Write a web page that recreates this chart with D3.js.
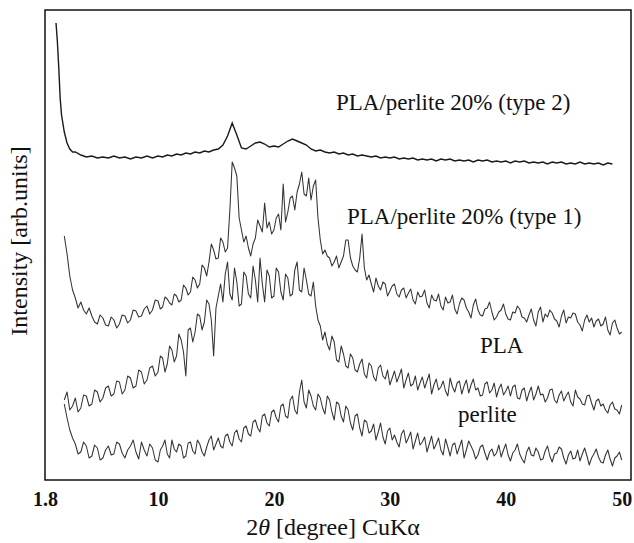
<!DOCTYPE html>
<html>
<head>
<meta charset="utf-8">
<script src="https://cdn.jsdelivr.net/npm/d3@7"></script>
<style>
  body { margin: 0; background: #fff; }
  text { font-family: "Liberation Serif", "Times New Roman", serif; }
</style>
</head>
<body>
<div id="chart"></div>
<script>
// 2-theta sampling grid (degrees) for the noisy patterns
const theta = [
  3.2, 3.4, 3.6, 3.8, 4.0, 4.2, 4.4, 4.6, 4.8, 5.0,
  5.2, 5.4, 5.6, 5.8, 6.0, 6.2, 6.4, 6.6, 6.8, 7.0,
  7.2, 7.4, 7.6, 7.8, 8.0, 8.2, 8.4, 8.6, 8.8, 9.0,
  9.2, 9.4, 9.6, 9.8, 10.0, 10.2, 10.4, 10.6, 10.8, 11.0,
  11.2, 11.4, 11.6, 11.8, 12.0, 12.2, 12.4, 12.6, 12.8, 13.0,
  13.2, 13.4, 13.6, 13.8, 14.0, 14.2, 14.4, 14.6, 14.8, 15.0,
  15.2, 15.4, 15.6, 15.8, 16.0, 16.2, 16.4, 16.6, 16.8, 17.0,
  17.2, 17.4, 17.6, 17.8, 18.0, 18.2, 18.4, 18.6, 18.8, 19.0,
  19.2, 19.4, 19.6, 19.8, 20.0, 20.2, 20.4, 20.6, 20.8, 21.0,
  21.2, 21.4, 21.6, 21.8, 22.0, 22.2, 22.4, 22.6, 22.8, 23.0,
  23.2, 23.4, 23.6, 23.8, 24.0, 24.2, 24.4, 24.6, 24.8, 25.0,
  25.2, 25.4, 25.6, 25.8, 26.0, 26.2, 26.4, 26.6, 26.8, 27.0,
  27.2, 27.4, 27.6, 27.8, 28.0, 28.2, 28.4, 28.6, 28.8, 29.0,
  29.2, 29.4, 29.6, 29.8, 30.0, 30.2, 30.4, 30.6, 30.8, 31.0,
  31.2, 31.4, 31.6, 31.8, 32.0, 32.2, 32.4, 32.6, 32.8, 33.0,
  33.2, 33.4, 33.6, 33.8, 34.0, 34.2, 34.4, 34.6, 34.8, 35.0,
  35.2, 35.4, 35.6, 35.8, 36.0, 36.2, 36.4, 36.6, 36.8, 37.0,
  37.2, 37.4, 37.6, 37.8, 38.0, 38.2, 38.4, 38.6, 38.8, 39.0,
  39.2, 39.4, 39.6, 39.8, 40.0, 40.2, 40.4, 40.6, 40.8, 41.0,
  41.2, 41.4, 41.6, 41.8, 42.0, 42.2, 42.4, 42.6, 42.8, 43.0,
  43.2, 43.4, 43.6, 43.8, 44.0, 44.2, 44.4, 44.6, 44.8, 45.0,
  45.2, 45.4, 45.6, 45.8, 46.0, 46.2, 46.4, 46.6, 46.8, 47.0,
  47.2, 47.4, 47.6, 47.8, 48.0, 48.2, 48.4, 48.6, 48.8, 49.0,
  49.2, 49.4, 49.6, 49.8, 50.0
];

// PLA/perlite 20% (type 1)
const type1 = [
  244, 226, 204, 190, 182, 172, 178, 170, 166, 172,
  164, 158, 156, 165, 162, 155, 154, 163, 160, 152,
  156, 165, 164, 157, 160, 170, 169, 163, 164, 171,
  174, 166, 170, 180, 179, 171, 173, 183, 181, 177,
  175, 186, 184, 178, 180, 195, 192, 185, 188, 203,
  200, 192, 196, 215, 212, 204, 218, 236, 230, 221,
  222, 242, 238, 228, 232, 270, 318, 312, 304, 262,
  250, 238, 244, 232, 224, 236, 242, 260, 254, 248,
  277, 252, 258, 246, 250, 262, 266, 250, 296, 258,
  268, 282, 284, 270, 288, 296, 308, 286, 284, 302,
  280, 294, 300, 262, 240, 226, 230, 224, 222, 214,
  218, 224, 212, 218, 224, 240, 240, 222, 214, 210,
  208, 222, 246, 212, 200, 205, 196, 188, 202, 194,
  190, 198, 196, 184, 189, 194, 196, 186, 183, 190,
  192, 182, 187, 191, 180, 176, 188, 183, 184, 190,
  177, 172, 185, 180, 179, 186, 174, 170, 183, 177,
  178, 185, 171, 166, 176, 182, 180, 172, 168, 162,
  175, 181, 170, 165, 164, 171, 172, 178, 168, 160,
  163, 168, 170, 176, 166, 161, 160, 168, 167, 174,
  171, 163, 162, 158, 165, 171, 160, 154, 168, 173,
  158, 166, 163, 170, 167, 161, 159, 153, 164, 170,
  157, 163, 162, 167, 166, 158, 155, 149, 160, 165,
  158, 162, 153, 159, 161, 154, 156, 163, 150, 145,
  157, 160, 152, 146, 148
];

// PLA
const pla = [
  80, 88, 70, 74, 82, 68, 72, 85, 84, 74,
  76, 90, 88, 78, 82, 92, 94, 84, 86, 99,
  98, 86, 90, 104, 102, 92, 94, 110, 108, 96,
  100, 112, 114, 104, 108, 124, 122, 108, 116, 134,
  130, 118, 124, 146, 140, 128, 104, 150, 152, 138,
  148, 166, 164, 150, 158, 180, 176, 160, 124, 172,
  184, 196, 178, 206, 218, 186, 180, 212, 198, 174,
  176, 208, 204, 186, 182, 214, 200, 178, 222, 196,
  178, 210, 204, 182, 184, 212, 208, 188, 180, 206,
  202, 184, 186, 210, 218, 190, 188, 212, 200, 186,
  184, 198, 174, 160, 154, 140, 148, 136, 130, 144,
  138, 120, 118, 134, 126, 114, 112, 126, 122, 110,
  108, 116, 121, 106, 102, 117, 114, 103, 99, 112,
  115, 104, 101, 110, 95, 102, 109, 98, 104, 111,
  92, 100, 107, 94, 96, 104, 90, 97, 103, 92,
  99, 106, 86, 95, 101, 90, 93, 99, 89, 84,
  102, 93, 88, 97, 99, 86, 94, 100, 87, 95,
  101, 90, 92, 84, 85, 96, 98, 87, 90, 97,
  83, 91, 96, 85, 89, 94, 84, 93, 95, 82,
  81, 90, 92, 79, 87, 93, 80, 86, 94, 85,
  86, 78, 82, 90, 91, 80, 77, 85, 89, 79,
  84, 88, 78, 74, 90, 83, 81, 76, 75, 84,
  85, 77, 70, 79, 81, 74, 76, 70, 67, 75,
  78, 71, 70, 66, 75
];

// perlite
const perlite = [
  76, 62, 50, 42, 36, 26, 28, 38, 34, 22,
  24, 35, 32, 20, 22, 30, 34, 25, 26, 38,
  36, 27, 22, 30, 34, 40, 28, 21, 38, 30,
  24, 36, 32, 20, 18, 30, 34, 40, 26, 22,
  40, 31, 28, 36, 34, 22, 24, 37, 38, 29,
  26, 40, 36, 28, 24, 33, 40, 44, 30, 36,
  42, 34, 32, 44, 46, 38, 34, 47, 50, 41,
  38, 52, 54, 46, 44, 58, 60, 52, 48, 64,
  66, 57, 54, 68, 70, 62, 58, 74, 76, 64,
  62, 80, 84, 70, 66, 88, 100, 78, 72, 90,
  84, 74, 70, 86, 82, 72, 66, 84, 80, 68,
  60, 78, 76, 64, 58, 74, 70, 57, 50, 64,
  66, 52, 44, 60, 58, 47, 49, 56, 40, 48,
  57, 43, 36, 49, 52, 40, 45, 38, 33, 46,
  50, 37, 42, 48, 31, 39, 47, 35, 38, 43,
  28, 36, 44, 31, 36, 42, 30, 25, 41, 33,
  24, 35, 37, 26, 33, 40, 22, 30, 39, 34,
  29, 21, 25, 33, 35, 27, 20, 28, 31, 24,
  27, 35, 23, 30, 36, 25, 19, 27, 30, 36,
  26, 21, 17, 28, 33, 25, 24, 32, 28, 20,
  21, 29, 34, 24, 18, 26, 27, 33, 31, 22,
  16, 25, 29, 21, 22, 30, 19, 26, 32, 24,
  15, 22, 26, 31, 23, 18, 17, 25, 30, 21,
  14, 22, 24, 28, 20
];

// PLA/perlite 20% (type 2): steep low-angle start, then every 0.4 degree up to 49.2
const type2Theta = [2.6, 2.7, 2.8, 2.9, 3.0, 3.2, 3.4, 3.6, 3.8]
  .concat(theta.filter((t, j) => j >= 4 && j <= 230 && j % 2 === 0));
const type2 = [
  457, 438, 412, 382, 365, 348, 337, 331, 328,
  328, 325, 323, 324, 322, 323, 322, 324, 322, 323,
  321, 323, 322, 324, 322, 324, 323, 325, 324, 326,
  325, 327, 326, 328, 327, 329, 328, 330, 331, 335,
  344, 357, 345, 332, 331, 334, 337, 338, 336, 333,
  334, 333, 336, 339, 341, 339, 337, 335, 331, 329,
  330, 328, 327, 328, 326, 327, 325, 326, 324, 325,
  324, 323, 324, 322, 323, 322, 323, 321, 322, 321,
  322, 320, 321, 320, 321, 319, 321, 320, 321, 319,
  320, 319, 320, 318, 320, 319, 320, 318, 319, 318,
  319, 317, 319, 318, 319, 317, 318, 317, 318, 316,
  318, 317, 318, 316, 317, 316, 318, 316, 317, 316,
  317, 315, 317, 316
];

const tickValues = [1.8, 10, 20, 30, 40, 50];

const seriesLabels = [
  { text: "PLA/perlite 20% (type 2)", x: 336, y: 110 },
  { text: "PLA/perlite 20% (type 1)", x: 347, y: 224 },
  { text: "PLA", x: 480, y: 353 },
  { text: "perlite", x: 458, y: 422 }
];

const svgWidth = 634;
const svgHeight = 543;
const margin = { top: 10, right: 3, bottom: 63, left: 45 };

const svg = d3.select("#chart")
  .append("svg")
  .attr("width", svgWidth)
  .attr("height", svgHeight);

// the printed axis puts 1.8 at the frame edge, 10..50 evenly spaced
const xScale = d3.scaleLinear()
  .domain([1.8, 10, 50.8])
  .range([margin.left, 158, svgWidth - margin.right]);

const yScale = d3.scaleLinear()
  .domain([0, 470])
  .range([svgHeight - margin.bottom, margin.top]);

const line = d3.line()
  .x(d => xScale(d[0]))
  .y(d => yScale(d[1]));

const noisy = [type1, pla, perlite];
noisy.forEach(vals => {
  svg.append("path")
    .datum(theta.map((t, i) => [t, vals[i]]))
    .attr("d", line)
    .attr("fill", "none")
    .attr("stroke", "#333")
    .attr("stroke-width", 1.05)
    .attr("stroke-linejoin", "round");
});

svg.append("path")
  .datum(type2Theta.map((t, i) => [t, type2[i]]))
  .attr("d", line)
  .attr("fill", "none")
  .attr("stroke", "#1a1a1a")
  .attr("stroke-width", 1.4);

// frame
svg.append("rect")
  .attr("x", margin.left)
  .attr("y", margin.top)
  .attr("width", svgWidth - margin.right - margin.left)
  .attr("height", svgHeight - margin.bottom - margin.top)
  .attr("fill", "none")
  .attr("stroke", "#111")
  .attr("stroke-width", 1.5);

// x axis labels
const xAxis = d3.axisBottom(xScale)
  .tickValues(tickValues)
  .tickSize(0)
  .tickPadding(12)
  .tickFormat(d => d);

const gx = svg.append("g")
  .attr("transform", `translate(0, ${svgHeight - margin.bottom})`)
  .call(xAxis);
gx.select(".domain").remove();
gx.selectAll("text")
  .attr("font-family", "Liberation Serif, serif")
  .attr("font-size", "20px")
  .attr("font-weight", "bold")
  .attr("fill", "#111");

// axis titles
const xTitle = svg.append("text")
  .attr("x", 333)
  .attr("y", 535)
  .attr("text-anchor", "middle")
  .attr("font-size", "24px")
  .attr("fill", "#111");
xTitle.append("tspan").text("2");
xTitle.append("tspan").attr("font-style", "italic").text("θ");
xTitle.append("tspan").text(" [degree] CuKα");

svg.append("text")
  .attr("transform", "translate(27, 241) rotate(-90)")
  .attr("text-anchor", "middle")
  .attr("font-size", "24px")
  .attr("fill", "#111")
  .text("Intensity [arb.units]");

// curve labels
svg.selectAll(".series-label")
  .data(seriesLabels)
  .enter()
  .append("text")
  .attr("class", "series-label")
  .attr("x", d => d.x)
  .attr("y", d => d.y)
  .attr("font-size", "23px")
  .attr("fill", "#111")
  .text(d => d.text);
</script>
</body>
</html>
